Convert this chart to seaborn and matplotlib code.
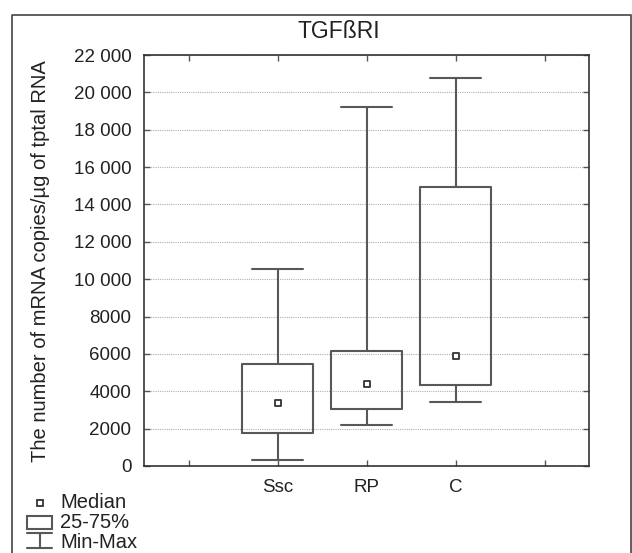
import matplotlib
matplotlib.use("Agg")
import matplotlib.pyplot as plt
import pandas as pd
import seaborn as sns

# five-number summaries
groups = ['Ssc', 'RP', 'C']
mins = [300, 2200, 3450]
q25 = [1780, 3050, 4330]
medians = [3370, 4400, 5880]
q75 = [5460, 6150, 14930]
maxs = [10550, 19200, 20780]

# empty slots on each side, like the original layout
x_order = ['', 'Ssc', 'RP', 'C', ' ']
y_ticks = [0, 2000, 4000, 6000, 8000, 10000, 12000, 14000, 16000, 18000, 20000, 22000]
y_tick_labels = ['0', '2000', '4000', '6000', '8000', '10 000', '12 000',
                 '14 000', '16 000', '18 000', '20 000', '22 000']
legend_labels = ['Median', '25-75%', 'Min-Max']

title = 'TGFßRI'
ylabel = 'The number of mRNA copies/µg of tptal RNA'

# 5 values per group -> quartiles land exactly on the summary values
rows = []
for g, a, b, c, d, e in zip(groups, mins, q25, medians, q75, maxs):
    for v in (a, b, c, d, e):
        rows.append({'group': g, 'value': v})
df = pd.DataFrame(rows)
df_med = pd.DataFrame({'group': groups, 'median': medians})

sns.set_style('ticks')
plt.rcParams['font.family'] = ['Liberation Sans', 'DejaVu Sans']
plt.rcParams['text.color'] = '#222222'

W, H = 632, 553
fig = plt.figure(figsize=(W / 100, H / 100), dpi=100)
ax = fig.add_axes([144 / W, 1 - 466 / H, 445 / W, 411 / H])

line_col = '#585858'
sns.boxplot(data=df, x='group', y='value', order=x_order, whis=(0, 100),
            width=0.8, fill=False, color=line_col, linewidth=1.5,
            showfliers=False, medianprops={'visible': False},
            capwidths=0.57, ax=ax)
sns.stripplot(data=df_med, x='group', y='median', order=x_order, jitter=False,
              marker='s', size=4.5, color='white', edgecolor='#333333',
              linewidth=1.3, zorder=5, ax=ax)

ax.set_xlim(-0.5, 4.5)
ax.set_ylim(0, 22000)
ax.set_yticks(y_ticks)
ax.set_yticklabels(y_tick_labels)
ax.set_xlabel('')
ax.set_ylabel('')
ax.set_axisbelow(True)
ax.yaxis.grid(True, linestyle=(0, (1, 1)), color='#b0b0b0', lw=0.8)
ax.tick_params(direction='in', top=True, right=True, length=4, width=1,
               color='#555555', labelsize=13.5, labelcolor='#222222', pad=9)
for s in ax.spines.values():
    s.set_color('#333333')
    s.set_linewidth(1.2)

fig.text(339 / W, 1 - 32 / H, title, ha='center', va='center', fontsize=16.5)
fig.text(41 / W, 1 - 261 / H, ylabel, rotation=90, ha='center', va='center',
         fontsize=14.5)

# overlay in pixel coordinates for the outer frame and the key
ov = fig.add_axes([0, 0, 1, 1], zorder=-1)
ov.set_xlim(0, W)
ov.set_ylim(H, 0)
ov.axis('off')
ov.plot([12, 12, 631, 631], [H + 5, 15, 15, H + 5], color='#444444', lw=1.2)

key_y = [503, 523, 543]
ov.plot([40], [key_y[0]], marker='s', ms=4.5, mfc='white', mec='#333333', mew=1.3)
ov.add_patch(plt.Rectangle((27, 516), 25, 13, fill=False, ec=line_col, lw=1.5))
ov.plot([27, 52], [533, 533], color=line_col, lw=1.5)
ov.plot([39.5, 39.5], [533, 548], color=line_col, lw=1.5)
ov.plot([27, 52], [548, 548], color=line_col, lw=1.5)
for lab, yy in zip(legend_labels, key_y):
    ov.text(60, yy, lab, ha='left', va='center', fontsize=14.5)

fig.savefig('out.png', dpi=100)
